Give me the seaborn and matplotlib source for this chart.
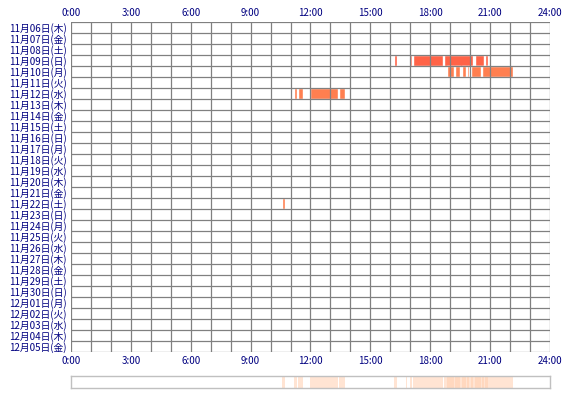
import matplotlib
matplotlib.use("Agg")
import matplotlib.pyplot as plt
import seaborn as sns
import datetime as dt

sns.set_style("white")
plt.rcParams['font.family'] = ['Noto Sans CJK JP', 'DejaVu Sans']

wd = ['月', '火', '水', '木', '金', '土', '日']
start = dt.date(2014, 11, 6)
days = [start + dt.timedelta(d) for d in range(30)]
day_labels = [f"{d.month}月{d.day:02d}日({wd[d.weekday()]})" for d in days]

# sessions: (row index, start hour, end hour)
row_idx = [3]*7 + [4]*6 + [6]*4 + [16]
seg_start = [16.2, 16.8, 17.0, 17.15, 18.7, 20.25, 20.75,
             18.85, 19.25, 19.6, 19.85, 20.05, 20.6,
             11.15, 11.35, 12.0, 13.45,
             10.55]
seg_end = [16.35, 16.85, 17.1, 18.65, 20.15, 20.7, 20.9,
           19.2, 19.5, 19.8, 19.95, 20.55, 22.15,
           11.3, 11.6, 13.4, 13.75,
           10.7]
row_colors = {3: '#ff6347', 4: '#ff7f50', 6: '#ff7f50', 16: '#ff7f50'}
tick_hours = [0, 3, 6, 9, 12, 15, 18, 21, 24]
tick_labels = [f"{h}:00" for h in tick_hours]

fig = plt.figure(figsize=(5.7, 4), dpi=100)
ax = fig.add_axes([71/570, 1-352/400, 479/570, 330/400])
n = len(days)
for r, s, e in zip(row_idx, seg_start, seg_end):
    ax.broken_barh([(s, e-s)], (r, 1), facecolors=row_colors[r], zorder=1)
for h in range(25):
    ax.axvline(h, color='#808080', lw=0.9, zorder=2)
for i in range(n+1):
    ax.axhline(i, color='#808080', lw=0.9, zorder=2)
ax.set_xlim(0, 24)
ax.set_ylim(n, 0)
ax.set_yticks([i+0.5 for i in range(n)])
ax.set_yticklabels(day_labels, fontsize=7, color='#000080')
ax.set_xticks(tick_hours)
ax.set_xticklabels(tick_labels, fontsize=7, color='#000080')
ax.tick_params(length=0, pad=3, labeltop=True, top=False)
for sp in ax.spines.values():
    sp.set_visible(False)

ax2 = fig.add_axes([71/570, 1-388/400, 479/570, 12/400])
for s, e in zip(seg_start, seg_end):
    ax2.axvspan(s, e, color='#ffcfb0', alpha=0.55, lw=0)
ax2.set_xlim(0, 24)
ax2.set_ylim(0, 1)
ax2.set_xticks([]); ax2.set_yticks([])
for sp in ax2.spines.values():
    sp.set_color('#c0c0c0'); sp.set_linewidth(1)

fig.savefig("out.png", dpi=100)
